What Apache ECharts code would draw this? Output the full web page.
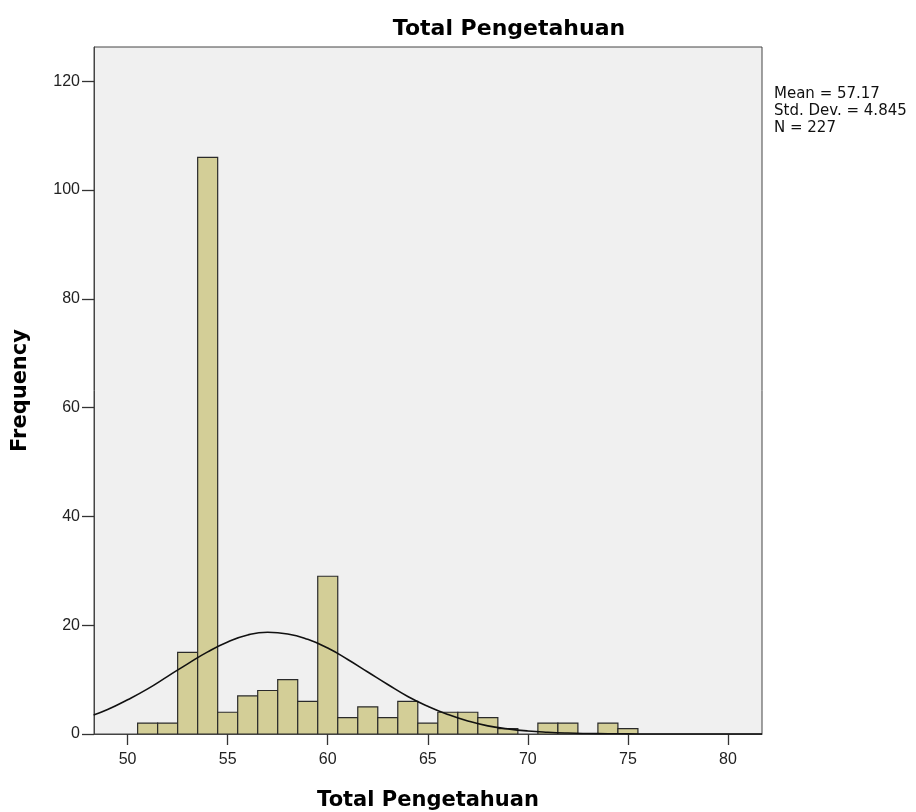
<!DOCTYPE html>
<html>
<head>
    <title></title>
    <script src="https://cdnjs.cloudflare.com/ajax/libs/echarts/6.0.0/echarts.min.js"></script>
</head>
<body style="margin:0;background:#fff;">
<div id="main" style="width: 916px;height:812px;"></div>
<script type="text/javascript">
// bin centres (width 1) and frequencies
var binCenters = [51, 52, 53, 54, 55, 56, 57, 58, 59, 60, 61, 62, 63, 64, 65, 66, 67, 68, 69, 70, 71, 72, 73, 74, 75];
var frequencies = [2, 2, 15, 106, 4, 7, 8, 10, 6, 29, 3, 5, 3, 6, 2, 4, 4, 3, 1, 0, 2, 2, 0, 2, 1];

// normal curve
var curveX = [48.3, 49, 50, 51, 52, 53, 54, 55, 56, 57, 58, 59, 60, 61, 62, 63, 64, 65, 66, 67, 68, 69, 70, 71, 72, 73, 74, 75, 76, 78, 81.7];
var curveY = [3.5, 4.5, 6.3, 8.3, 10.6, 12.9, 15.1, 16.9, 18.2, 18.7, 18.4, 17.4, 15.8, 13.7, 11.4, 9.1, 6.9, 5.1, 3.6, 2.4, 1.5, 0.95, 0.56, 0.32, 0.17, 0.09, 0.05, 0.02, 0.01, 0, 0];

var xTicks = [50, 55, 60, 65, 70, 75, 80];
var statLines = ['Mean = 57.17', 'Std. Dev. = 4.845', 'N = 227'];

var barData = [];
for (var i = 0; i < binCenters.length; i++) {
    if (frequencies[i] > 0) barData.push([binCenters[i], frequencies[i]]);
}
var lineData = [];
for (var j = 0; j < curveX.length; j++) {
    lineData.push([curveX[j], curveY[j]]);
}

var myChart = echarts.init(document.getElementById('main'));
var font = '"Liberation Sans", Arial, sans-serif';
var wide = '"DejaVu Sans", sans-serif';

myChart.setOption({
    animation: false,
    title: {
        text: 'Total Pengetahuan',
        left: 504,
        textAlign: 'center',
        top: 1,
        textStyle: {fontFamily: wide, fontSize: 22, fontWeight: 'bold', color: '#000'}
    },
    graphic: [{
        type: 'text',
        left: 774,
        top: 79,
        style: {
            text: statLines.join('\n'),
            font: '15px ' + wide,
            fill: '#111',
            lineHeight: 17.3
        }
    }],
    grid: {
        left: 94, right: 154, top: 47, bottom: 78,
        outerBoundsMode: 'none',
        containLabel: false,
        show: true,
        backgroundColor: '#f0f0f0',
        borderColor: '#444',
        borderWidth: 1
    },
    xAxis: {
        type: 'value',
        min: 48.32,
        max: 81.7,
        name: 'Total Pengetahuan',
        nameLocation: 'middle',
        nameGap: 43,
        nameTextStyle: {fontFamily: wide, fontSize: 21, fontWeight: 'bold', color: '#000'},
        splitLine: {show: false},
        axisLine: {show: true, lineStyle: {color: '#444', width: 1}},
        axisTick: {show: true, length: 11, lineStyle: {color: '#333', width: 1.3}, customValues: xTicks},
        axisLabel: {fontFamily: font, fontSize: 16, color: '#222', margin: 12, customValues: xTicks}
    },
    yAxis: {
        type: 'value',
        min: 0,
        max: 126.3,
        interval: 20,
        name: 'Frequency',
        nameLocation: 'middle',
        nameGap: 44,
        nameTextStyle: {fontFamily: wide, fontSize: 21, fontWeight: 'bold', color: '#000'},
        splitLine: {show: false},
        axisLine: {show: true, lineStyle: {color: '#444', width: 1}},
        axisTick: {show: true, length: 12, lineStyle: {color: '#333', width: 1.3}},
        axisLabel: {fontFamily: font, fontSize: 16, color: '#222', margin: 14, showMaxLabel: false}
    },
    series: [
        {
            type: 'custom',
            data: barData,
            clip: true,
            renderItem: function (params, api) {
                var x = api.value(0), y = api.value(1);
                var p0 = api.coord([x - 0.5, y]);
                var p1 = api.coord([x + 0.5, 0]);
                return {
                    type: 'rect',
                    shape: {x: p0[0], y: p0[1], width: p1[0] - p0[0], height: p1[1] - p0[1]},
                    style: {fill: '#d3ce97', stroke: '#2a2a2a', lineWidth: 1.2}
                };
            }
        },
        {
            type: 'line',
            data: lineData,
            smooth: true,
            showSymbol: false,
            clip: true,
            lineStyle: {color: '#111', width: 1.6},
            z: 5
        }
    ]
});
</script>
</body>
</html>
